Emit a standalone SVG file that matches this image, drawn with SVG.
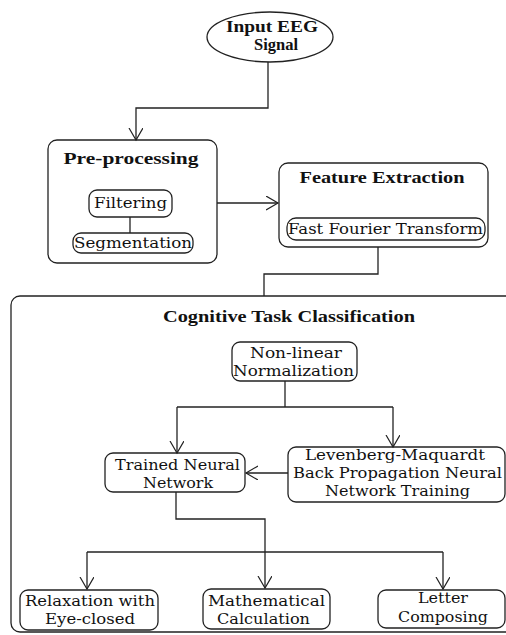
<svg xmlns="http://www.w3.org/2000/svg" width="506" height="635" viewBox="0 0 506 635">
<style>
.box{fill:#fff;stroke:#222;stroke-width:1.3}
.ln{fill:none;stroke:#222;stroke-width:1.3}
.t{font-family:"DejaVu Serif","Liberation Serif",serif;font-size:14px;fill:#111;text-anchor:middle}
.b{font-family:"Liberation Serif","DejaVu Serif",serif;font-size:16px;font-weight:bold;fill:#111;text-anchor:middle}
</style>
<defs>
<marker id="ah" markerWidth="14" markerHeight="16" refX="12" refY="7" orient="auto" markerUnits="userSpaceOnUse">
<path d="M0,0 L12,7 L0,14" fill="none" stroke="#222" stroke-width="1.2"/>
</marker>
</defs>
<rect width="506" height="635" fill="#fff"/>
<g id="input">
<ellipse class="box" cx="270" cy="37" rx="63" ry="25"/>
<text class="b" x="272" y="32" textLength="92" lengthAdjust="spacingAndGlyphs">Input EEG</text>
<text class="b" x="276" y="50" textLength="44" lengthAdjust="spacingAndGlyphs">Signal</text>
</g>
<g id="preprocessing">
<rect class="box" x="48" y="140" width="169" height="123" rx="9"/>
<text class="b" x="131" y="164" textLength="135" lengthAdjust="spacingAndGlyphs">Pre-processing</text>
</g>
<g id="filtering">
<rect class="box" x="89" y="190" width="83" height="27" rx="8"/>
<text class="t" x="130.5" y="208" textLength="73" lengthAdjust="spacingAndGlyphs">Filtering</text>
</g>
<g id="segmentation">
<rect class="box" x="73" y="233" width="120" height="20" rx="8"/>
<text class="t" x="133" y="248" textLength="118" lengthAdjust="spacingAndGlyphs">Segmentation</text>
</g>
<g id="feature">
<rect class="box" x="279" y="163" width="209" height="84" rx="9"/>
<text class="b" x="382" y="183" textLength="165" lengthAdjust="spacingAndGlyphs">Feature Extraction</text>
</g>
<g id="fft">
<rect class="box" x="287" y="218" width="198" height="22" rx="9"/>
<text class="t" x="385.5" y="234" textLength="195" lengthAdjust="spacingAndGlyphs">Fast Fourier Transform</text>
</g>
<g id="classification">
<rect class="box" x="11" y="296" width="530" height="336" rx="9"/>
<text class="b" x="289" y="322" textLength="252" lengthAdjust="spacingAndGlyphs">Cognitive Task Classification</text>
</g>
<g id="normalization">
<rect class="box" x="232" y="342" width="125" height="39" rx="8"/>
<text class="t" x="296" y="358" textLength="92" lengthAdjust="spacingAndGlyphs">Non-linear</text>
<text class="t" x="293.5" y="376" textLength="121" lengthAdjust="spacingAndGlyphs">Normalization</text>
</g>
<g id="trained">
<rect class="box" x="105" y="453" width="140" height="39" rx="8"/>
<text class="t" x="177.5" y="470" textLength="125" lengthAdjust="spacingAndGlyphs">Trained Neural</text>
<text class="t" x="178" y="488" textLength="70" lengthAdjust="spacingAndGlyphs">Network</text>
</g>
<g id="lm">
<rect class="box" x="288" y="447" width="217" height="55" rx="8"/>
<text class="t" x="395" y="460" textLength="180" lengthAdjust="spacingAndGlyphs">Levenberg-Maquardt</text>
<text class="t" x="397.5" y="478" textLength="209" lengthAdjust="spacingAndGlyphs">Back Propagation Neural</text>
<text class="t" x="397.5" y="496" textLength="145" lengthAdjust="spacingAndGlyphs">Network Training</text>
</g>
<g id="relaxation">
<rect class="box" x="20" y="590" width="138" height="40" rx="8"/>
<text class="t" x="90" y="606" textLength="130" lengthAdjust="spacingAndGlyphs">Relaxation with</text>
<text class="t" x="90" y="624" textLength="90" lengthAdjust="spacingAndGlyphs">Eye-closed</text>
</g>
<g id="math">
<rect class="box" x="203" y="589" width="127" height="40" rx="8"/>
<text class="t" x="266.5" y="606" textLength="117" lengthAdjust="spacingAndGlyphs">Mathematical</text>
<text class="t" x="263.5" y="624" textLength="93" lengthAdjust="spacingAndGlyphs">Calculation</text>
</g>
<g id="letter">
<rect class="box" x="378" y="590" width="127" height="38" rx="8"/>
<text class="t" x="443" y="603" textLength="50" lengthAdjust="spacingAndGlyphs">Letter</text>
<text class="t" x="443" y="622" textLength="90" lengthAdjust="spacingAndGlyphs">Composing</text>
</g>
<g id="connectors">
<path class="ln" d="M268,62 V108 H136 V140" marker-end="url(#ah)"/>
<path class="ln" d="M130,217 V233"/>
<path class="ln" d="M217,203 H278" marker-end="url(#ah)"/>
<path class="ln" d="M378,247 V274 H264 V296"/>
<path class="ln" d="M285,381 V407"/>
<path class="ln" d="M177,407 H393"/>
<path class="ln" d="M177,407 V453" marker-end="url(#ah)"/>
<path class="ln" d="M393,407 V447" marker-end="url(#ah)"/>
<path class="ln" d="M288,473 H246" marker-end="url(#ah)"/>
<path class="ln" d="M176,492 V519 H265 V588" marker-end="url(#ah)"/>
<path class="ln" d="M87,552 H443"/>
<path class="ln" d="M87,552 V589" marker-end="url(#ah)"/>
<path class="ln" d="M443,552 V589" marker-end="url(#ah)"/>
</g>
</svg>
